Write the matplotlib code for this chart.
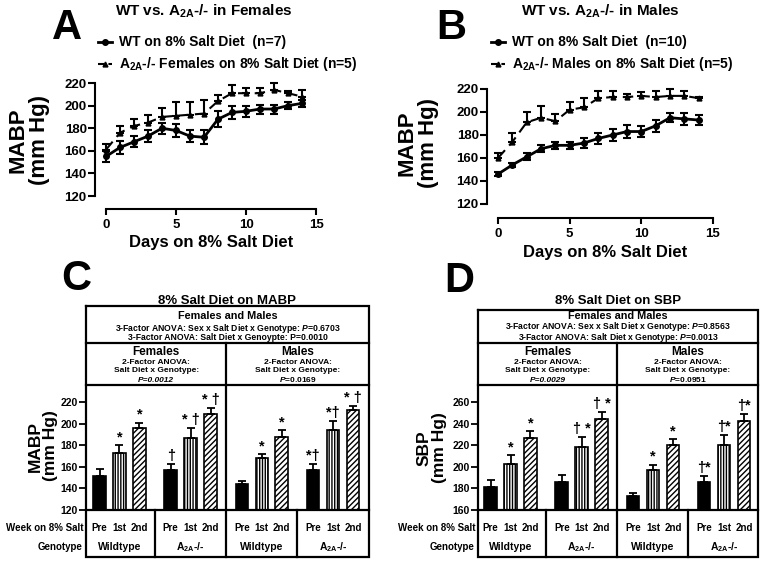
import matplotlib
matplotlib.use("Agg")
import matplotlib.pyplot as plt
from matplotlib.transforms import blended_transform_factory

plt.rcParams.update({
    "font.family": "Liberation Sans", "font.weight": "bold",
    "mathtext.fontset": "custom", "mathtext.rm": "Liberation Sans:bold",
    "mathtext.bf": "Liberation Sans:bold", "mathtext.it": "Liberation Sans:italic:bold",
    "hatch.linewidth": 1.0, "axes.linewidth": 1.5,
})

# ---- data: panels A/B (daily MABP, mean and SEM) ----
days = [0, 1, 2, 3, 4, 5, 6, 7, 8, 9, 10, 11, 12, 13, 14]
wt_f = [155, 163, 168, 173, 180, 178, 173, 172, 188, 194, 195, 197, 197, 200, 202]
wt_f_err = [5, 6, 5, 5, 5, 6, 5, 6, 7, 6, 5, 4, 4, 3, 3]
ko_f = [161, 176, 182, 185, 190, 191, 192, 193, 204, 211, 211, 211, 214, 211, 208]
ko_f_err = [5, 6, 6, 7, 8, 12, 11, 12, 5, 7, 5, 5, 6, 2, 6]
wt_m = [146, 154, 161, 168, 171, 171, 173, 177, 180, 183, 183, 188, 195, 194, 193]
wt_m_err = [2, 2, 3, 3, 3, 3, 4, 5, 5, 6, 5, 5, 4, 5, 4]
ko_m = [160, 174, 191, 195, 192, 202, 204, 212, 213, 213, 214, 213, 214, 214, 212]
ko_m_err = [4, 8, 9, 10, 6, 7, 8, 6, 5, 3, 3, 5, 6, 4, 1]

# ---- data: panels C/D (weekly means, order: F-WT, F-KO, M-WT, M-KO x Pre/1st/2nd) ----
weeks = ["Pre", "1st", "2nd"]
genotypes = ["Wildtype", r"$\mathbf{A}_{\mathbf{2A}}$-/-", "Wildtype", r"$\mathbf{A}_{\mathbf{2A}}$-/-"]
mabp_mean = [152, 173, 196, 157, 187, 209, 144, 168, 188, 157, 194, 213]
mabp_err = [6, 7, 5, 6, 9, 6, 3, 4, 6, 6, 9, 4]
mabp_sig = ["", "*", "*", "†", "* †", "* †", "", "*", "*", "*†", "*†", "* †"]
sbp_mean = [181, 203, 227, 186, 219, 245, 173, 197, 220, 186, 220, 243]
sbp_err = [7, 8, 6, 7, 9, 6, 3, 5, 6, 6, 10, 6]
sbp_sig = ["", "*", "*", "", "† *", "† *", "", "*", "*", "†*", "†*", "†*"]

W, H = 762, 562
fig = plt.figure(figsize=(W / 100, H / 100), dpi=100)
A2A = r"$\mathbf{A}_{\mathbf{2A}}$"

def px_axes(l, t, r, b):
    return fig.add_axes([l / W, 1 - b / H, (r - l) / W, (b - t) / H])

def line_panel(box, xr, yr, wt, wt_e, ko, ko_e):
    ax = px_axes(*box)
    ax.plot(days, wt, color="k", lw=2, marker="o", ms=4)
    ax.errorbar(days, wt, yerr=wt_e, fmt="none", ecolor="k", elinewidth=1.5, capsize=3, capthick=1.5)
    ax.plot(days, ko, color="k", lw=1.5, ls=(0, (5, 3)), marker="^", ms=3.5)
    ax.errorbar(days, ko, yerr=[[0] * len(days), ko_e], fmt="none", ecolor="k", elinewidth=1.5, capsize=3, capthick=1.5)
    ax.set_xlim(*xr); ax.set_ylim(*yr)
    ax.spines[["top", "right"]].set_visible(False)
    ax.spines["left"].set_bounds(120, 220); ax.spines["bottom"].set_bounds(0, 15)
    ax.set_yticks([120, 140, 160, 180, 200, 220]); ax.set_xticks([0, 5, 10, 15])
    ax.tick_params(direction="out", length=5, width=1.5, labelsize=9.5)
    ax.tick_params(axis="y", pad=1)
    ax.tick_params(axis="x", length=4, pad=3)
    return ax

def bar_panel(box, xr, yr, yticks, means, errs, sig):
    ax = px_axes(*box)
    pos = [g * 3.57 + i for g in range(4) for i in range(3)]
    for k, (p, m) in enumerate(zip(pos, means)):
        style = k % 3
        fc = "k" if style == 0 else "white"
        hatch = [None, "||||||", "//////"][style]
        ax.bar(p, m, width=0.63, color=fc, edgecolor="k", lw=1.2, hatch=hatch)
    ax.errorbar(pos, means, yerr=[[0] * len(pos), errs], fmt="none", ecolor="k", elinewidth=1.3, capsize=3, capthick=1.3)
    for p, m, e, s in zip(pos, means, errs, sig):
        if s:
            ax.annotate(s, (p, m + e), xytext=(0, 8), textcoords="offset pixels",
                        ha="center", va="center", fontsize=10.5, fontweight="bold")
    ax.set_xlim(*xr); ax.set_ylim(*yr)
    ax.spines[:].set_visible(False)
    ax.set_xticks([]); ax.set_yticks(yticks)
    ax.tick_params(axis="y", direction="out", length=5, width=1.3, labelsize=7.5, pad=1)
    return ax, pos

axA = line_panel((95, 80, 316, 209), (-0.786, 15), (108.5, 222.7), wt_f, wt_f_err, ko_f, ko_f_err)
axB = line_panel((487, 86, 713, 218), (-0.77, 15), (107.8, 222.6), wt_m, wt_m_err, ko_m, ko_m_err)
axC, posC = bar_panel((86, 385, 369, 510), (-0.68, 13.52), (120, 236.2), [120, 140, 160, 180, 200, 220], mabp_mean, mabp_err, mabp_sig)
axD, posD = bar_panel((478, 385, 758, 510), (-0.63, 13.41), (160, 276.2), [160, 180, 200, 220, 240, 260], sbp_mean, sbp_err, sbp_sig)

ov = fig.add_axes([0, 0, 1, 1], zorder=5)
ov.set_xlim(0, W); ov.set_ylim(H, 0); ov.axis("off"); ov.patch.set_alpha(0)

# panel letters
for letter, x, y in [("A", 67, 28), ("B", 451, 28), ("C", 76, 279), ("D", 459, 281)]:
    ov.text(x, y, letter, fontsize=30, fontweight="bold", ha="center", va="center")

# line panel titles, legends, labels
for cx, lx, title, n_wt, sex, ylx, yly in [
        (204, 98, "WT vs. " + A2A + "-/- in Females", 7, "Females", 29, 140),
        (600, 491, "WT vs. " + A2A + "-/- in Males", 10, "Males", 418, 143)]:
    ov.text(cx, 11, title, fontsize=11, ha="center", va="center")
    ov.plot([lx, lx + 7, lx + 14], [42, 42, 42], color="k", lw=2, marker="o", ms=4, markevery=[1])
    ov.text(lx + 21, 42, "WT on 8%% Salt Diet  (n=%d)" % n_wt, fontsize=10, va="center")
    ov.plot([lx, lx + 7, lx + 14], [64, 64, 64], color="k", lw=1.5, ls=(0, (3, 2)), marker="^", ms=3.5, markevery=[1])
    ov.text(lx + 21, 64, A2A + "-/- %s on 8%% Salt Diet (n=5)" % sex, fontsize=10, va="center")
    ov.text(ylx, yly, "MABP\n(mm Hg)", fontsize=16, rotation=90, ha="center", va="center", linespacing=1.0)
for ax, xly in [(axA, 242), (axB, 252)]:
    bx = blended_transform_factory(ax.transData, ov.transData)
    ov.text(7.5, xly, "Days on 8% Salt Diet", transform=bx, fontsize=12, ha="center", va="center")

def table(ax, pos, l, r, top, title, row1, fem, male, ylabel, ylx, yly):
    bx = blended_transform_factory(ax.transData, ov.transData)
    lw = 1.6
    ov.plot([l, r, r, l, l], [top, top, 557, 557, top], color="k", lw=lw, solid_joinstyle="miter")
    for y in (343, 385, 510):
        ov.plot([l, r], [y, y], color="k", lw=lw)
    divs = [(pos[3 * g + 2] + pos[3 * g + 3]) / 2 for g in range(3)]
    ov.plot([divs[1], divs[1]], [343, 557], color="k", lw=lw, transform=bx)
    for d in (divs[0], divs[2]):
        ov.plot([d, d], [510, 557], color="k", lw=lw, transform=bx)
    cx = (l + r) / 2
    ov.text(cx, 301, title, fontsize=9.5, ha="center", va="center")
    ov.text(cx, 316, "Females and Males", fontsize=7.8, ha="center", va="center")
    ov.text(cx, 332, row1, fontsize=6.2, ha="center", va="center", linespacing=0.8)
    mid = ax.transData.transform((divs[1], 0))[0]
    for x0, x1, head, plines, pstyle in [(l, mid, "Females", fem, "italic"), (mid, r, "Males", male, "normal")]:
        c = (x0 + x1) / 2
        ov.text(c, 352, head, fontsize=8.5, ha="center", va="center")
        ov.text(c, 362, "2-Factor ANOVA:", fontsize=6, ha="center", va="center")
        ov.text(c, 371, "Salt Diet x Genotype:", fontsize=6, ha="center", va="center")
        ov.text(c, 380, plines, fontsize=6, ha="center", va="center", style=pstyle)
    for p, k in zip(pos, range(len(pos))):
        ov.text(p, 528, weeks[k % 3], transform=bx, fontsize=7, ha="center", va="center")
    for g in range(4):
        ov.text(pos[3 * g + 1], 547, genotypes[g], transform=bx, fontsize=7.5, ha="center", va="center")
    ov.text(l - 3, 528, "Week on 8% Salt", fontsize=7, ha="right", va="center")
    ov.text(l - 3, 547, "Genotype", fontsize=7, ha="right", va="center")
    ov.text(ylx, yly, ylabel, fontsize=12.5, rotation=90, ha="center", va="center", linespacing=1.05)

table(axC, posC, 86, 369, 306, "8% Salt Diet on MABP",
      "3-Factor ANOVA: Sex x Salt Diet x Genotype: $\\mathit{P}$=0.6703\n"
      "3-Factor ANOVA: Salt Diet x Genoypte: P=0.0010",
      "P=0.0012", r"$\mathit{P}$=0.0169", "MABP\n(mm Hg)", 43, 446)
table(axD, posD, 478, 758, 310, "8% Salt Diet on SBP",
      "3-Factor ANOVA: Sex x Salt Diet x Genotype: $\\mathit{P}$=0.8563\n"
      "3-Factor ANOVA: Salt Diet x Genotype: $\\mathit{P}$=0.0013",
      "P=0.0029", r"$\mathit{P}$=0.0951", "SBP\n(mm Hg)", 432, 448)

fig.savefig("out.png", dpi=100)
